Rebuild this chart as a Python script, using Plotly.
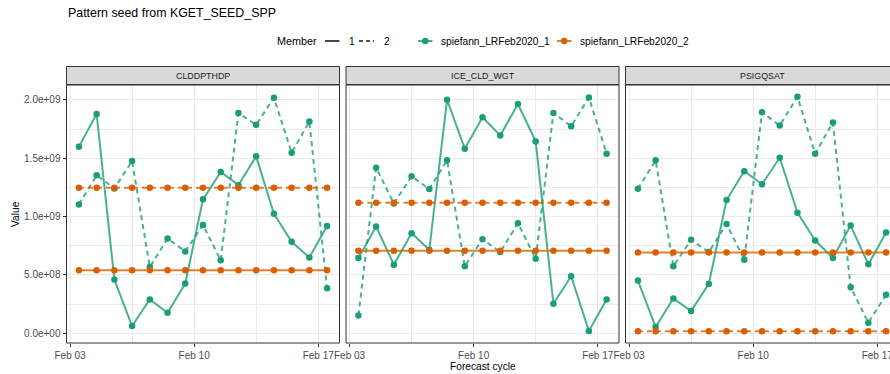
import pandas as pd
import plotly.graph_objects as go

# ---- data -----------------------------------------------------------------
panels = ["CLDDPTHDP", "ICE_CLD_WGT", "PSIGQSAT"]
experiments = ["spiefann_LRFeb2020_1", "spiefann_LRFeb2020_2"]
members = ["1", "2"]

cycles = [
    "2020-02-03 12:00", "2020-02-04 12:00", "2020-02-05 12:00", "2020-02-06 12:00",
    "2020-02-07 12:00", "2020-02-08 12:00", "2020-02-09 12:00", "2020-02-10 12:00",
    "2020-02-11 12:00", "2020-02-12 12:00", "2020-02-13 12:00", "2020-02-14 12:00",
    "2020-02-15 12:00", "2020-02-16 12:00", "2020-02-17 12:00",
]

# CLDDPTHDP
clddpthdp_exp1_m1 = [1.600e9, 1.880e9, 0.460e9, 0.062e9, 0.290e9, 0.176e9, 0.426e9, 1.148e9,
                     1.383e9, 1.270e9, 1.517e9, 1.025e9, 0.784e9, 0.650e9, 0.920e9]
clddpthdp_exp1_m2 = [1.105e9, 1.355e9, 1.241e9, 1.477e9, 0.568e9, 0.812e9, 0.702e9, 0.929e9,
                     0.625e9, 1.889e9, 1.787e9, 2.020e9, 1.548e9, 1.815e9, 0.386e9]
clddpthdp_exp2_m1 = [0.540e9, 0.540e9, 0.540e9, 0.540e9, 0.540e9, 0.540e9, 0.540e9, 0.540e9,
                     0.540e9, 0.540e9, 0.540e9, 0.540e9, 0.540e9, 0.540e9, 0.540e9]
clddpthdp_exp2_m2 = [1.247e9, 1.247e9, 1.247e9, 1.247e9, 1.247e9, 1.247e9, 1.247e9, 1.247e9,
                     1.247e9, 1.247e9, 1.247e9, 1.247e9, 1.247e9, 1.247e9, 1.247e9]

# ICE_CLD_WGT
ice_cld_wgt_exp1_m1 = [0.645e9, 0.915e9, 0.588e9, 0.858e9, 0.716e9, 2.003e9, 1.582e9, 1.852e9,
                       1.696e9, 1.966e9, 1.645e9, 0.253e9, 0.489e9, 0.020e9, 0.290e9]
ice_cld_wgt_exp1_m2 = [0.153e9, 1.420e9, 1.113e9, 1.346e9, 1.236e9, 1.483e9, 0.574e9, 0.807e9,
                       0.696e9, 0.943e9, 0.639e9, 1.889e9, 1.775e9, 2.022e9, 1.540e9]
ice_cld_wgt_exp2_m1 = [0.707e9, 0.707e9, 0.707e9, 0.707e9, 0.707e9, 0.707e9, 0.707e9, 0.707e9,
                       0.707e9, 0.707e9, 0.707e9, 0.707e9, 0.707e9, 0.707e9, 0.707e9]
ice_cld_wgt_exp2_m2 = [1.119e9, 1.119e9, 1.119e9, 1.119e9, 1.119e9, 1.119e9, 1.119e9, 1.119e9,
                       1.119e9, 1.119e9, 1.119e9, 1.119e9, 1.119e9, 1.119e9, 1.119e9]

# PSIGQSAT
psigqsat_exp1_m1 = [0.452e9, 0.054e9, 0.298e9, 0.190e9, 0.423e9, 1.142e9, 1.389e9, 1.278e9,
                    1.505e9, 1.034e9, 0.795e9, 0.645e9, 0.923e9, 0.591e9, 0.864e9]
psigqsat_exp1_m2 = [1.238e9, 1.483e9, 0.574e9, 0.801e9, 0.696e9, 0.937e9, 0.631e9, 1.895e9,
                    1.781e9, 2.028e9, 1.540e9, 1.807e9, 0.395e9, 0.091e9, 0.330e9]
psigqsat_exp2_m1 = [0.693e9, 0.693e9, 0.693e9, 0.693e9, 0.693e9, 0.693e9, 0.693e9, 0.693e9,
                    0.693e9, 0.693e9, 0.693e9, 0.693e9, 0.693e9, 0.693e9, 0.693e9]
psigqsat_exp2_m2 = [0.017e9, 0.017e9, 0.017e9, 0.017e9, 0.017e9, 0.017e9, 0.017e9, 0.017e9,
                    0.017e9, 0.017e9, 0.017e9, 0.017e9, 0.017e9, 0.017e9, 0.017e9]

y_ticks = [0.0, 5e8, 1e9, 1.5e9, 2e9]
x_ticks = ["2020-02-03", "2020-02-10", "2020-02-17"]

series = {
    "CLDDPTHDP": [[clddpthdp_exp1_m1, clddpthdp_exp1_m2], [clddpthdp_exp2_m1, clddpthdp_exp2_m2]],
    "ICE_CLD_WGT": [[ice_cld_wgt_exp1_m1, ice_cld_wgt_exp1_m2], [ice_cld_wgt_exp2_m1, ice_cld_wgt_exp2_m2]],
    "PSIGQSAT": [[psigqsat_exp1_m1, psigqsat_exp1_m2], [psigqsat_exp2_m1, psigqsat_exp2_m2]],
}

# ---- styling --------------------------------------------------------------
W, H = 890, 374
FONT = "Liberation Sans, Arial, Helvetica, sans-serif"
COLORS = ["#1B9E77", "#D95F02"]
LINE_COLORS = ["rgba(27,158,119,0.8)", "rgba(217,95,2,0.8)"]
DASHES = ["solid", "5px,4px"]
BORDER = "#333333"
GRID = "#EBEBEB"
TICK_TXT = "#4D4D4D"

# panel geometry in pixels (left, right); the last facet runs past the page edge
PANEL_W = 273.0
panel_left = [66.5, 346.0, 625.5]
panel_top, panel_bottom = 85.0, 343.0
strip_top = 66.5


def px(x):
    return x / W


def py(y):
    return (H - y) / H


# scales with ggplot-style 5 % expansion
t = pd.to_datetime(cycles)
span = t.max() - t.min()
x_lo = t.min() - 0.05 * span
x_hi = t.max() + 0.05 * span

all_vals = [v for p in panels for e in series[p] for m in e for v in m]
v_span = max(all_vals) - min(all_vals)
y_lo = min(all_vals) - 0.05 * v_span
y_hi = max(all_vals) + 0.05 * v_span

fig = go.Figure()

for i, p in enumerate(panels):
    xa = "x" if i == 0 else f"x{i + 1}"
    ya = "y" if i == 0 else f"y{i + 1}"
    # lines first, then points on top
    for e in range(2):
        for m in range(2):
            fig.add_trace(go.Scatter(
                x=cycles, y=series[p][e][m], mode="lines", xaxis=xa, yaxis=ya,
                line=dict(color=LINE_COLORS[e], width=2, dash=DASHES[m]),
                showlegend=False, hoverinfo="skip"))
    for e in range(2):
        for m in range(2):
            fig.add_trace(go.Scatter(
                x=cycles, y=series[p][e][m], mode="markers", xaxis=xa, yaxis=ya,
                marker=dict(color=COLORS[e], size=6.5),
                name=f"{experiments[e]} / {members[m]}", showlegend=False))

layout = dict(
    width=W, height=H,
    margin=dict(l=0, r=0, t=0, b=0),
    paper_bgcolor="white", plot_bgcolor="white",
    font=dict(family=FONT, color="#1A1A1A"),
    showlegend=False,
)

shapes = []
annotations = []

for i, p in enumerate(panels):
    left = panel_left[i]
    right = min(left + PANEL_W, W)
    frac = (right - left) / PANEL_W
    hi = x_lo + (x_hi - x_lo) * frac
    key = "xaxis" if i == 0 else f"xaxis{i + 1}"
    ykey = "yaxis" if i == 0 else f"yaxis{i + 1}"
    ya = "y" if i == 0 else f"y{i + 1}"
    layout[key] = dict(
        domain=[px(left), px(right)], anchor=ya, type="date",
        range=[x_lo.isoformat(), hi.isoformat()],
        tickmode="array", tickvals=x_ticks, ticktext=[pd.Timestamp(v).strftime("%b %d") for v in x_ticks],
        ticks="outside", ticklen=3, tickwidth=1, tickcolor=BORDER,
        tickfont=dict(size=10, color=TICK_TXT, family=FONT),
        ticklabeloverflow="allow",
        showgrid=True, gridcolor=GRID, gridwidth=1,
        minor=dict(dtick=3.5 * 86400000, tick0="2020-02-03", showgrid=True,
                   gridcolor=GRID, gridwidth=0.6, ticks=""),
        showline=False, zeroline=False, automargin=False, fixedrange=True,
    )
    layout[ykey] = dict(
        domain=[py(panel_bottom), py(panel_top)], anchor="x" if i == 0 else f"x{i + 1}",
        range=[y_lo, y_hi],
        tickmode="array", tickvals=y_ticks, ticktext=[f"{v:.1e}" for v in y_ticks],
        showticklabels=(i == 0), ticks="outside" if i == 0 else "",
        ticklen=3, tickwidth=1, tickcolor=BORDER,
        tickfont=dict(size=10, color=TICK_TXT, family=FONT),
        showgrid=True, gridcolor=GRID, gridwidth=1,
        minor=dict(dtick=2.5e8, tick0=0, showgrid=True, gridcolor=GRID, gridwidth=0.6, ticks=""),
        showline=False, zeroline=False, automargin=False, fixedrange=True,
    )
    # panel border
    shapes.append(dict(type="rect", xref="paper", yref="paper",
                       x0=px(left), x1=px(left + PANEL_W), y0=py(panel_bottom), y1=py(panel_top),
                       line=dict(color=BORDER, width=1), fillcolor="rgba(0,0,0,0)", layer="above"))
    # facet strip
    shapes.append(dict(type="rect", xref="paper", yref="paper",
                       x0=px(left), x1=px(left + PANEL_W), y0=py(panel_top - 0.5), y1=py(strip_top),
                       line=dict(color=BORDER, width=1), fillcolor="#D9D9D9", layer="above"))
    annotations.append(dict(text=p, xref="paper", yref="paper", showarrow=False,
                            x=px(left + PANEL_W / 2), y=py((strip_top + panel_top) / 2),
                            xanchor="center", yanchor="middle",
                            font=dict(size=8.9, color="#1A1A1A", family=FONT)))

# title and axis titles
annotations.append(dict(text="Pattern seed from KGET_SEED_SPP", xref="paper", yref="paper",
                        showarrow=False, x=px(65.5), y=py(13), xanchor="left", yanchor="middle",
                        font=dict(size=12.4, color="black", family=FONT)))
annotations.append(dict(text="Value", xref="paper", yref="paper", showarrow=False,
                        x=px(15), y=py((panel_top + panel_bottom) / 2), textangle=-90,
                        xanchor="center", yanchor="middle",
                        font=dict(size=10.2, color="black", family=FONT)))
annotations.append(dict(text="Forecast cycle", xref="paper", yref="paper", showarrow=False,
                        x=px(panel_left[0] + (panel_left[2] + PANEL_W - panel_left[0]) / 2), y=py(366),
                        xanchor="center", yanchor="middle",
                        font=dict(size=10.2, color="black", family=FONT)))

# legend row
LEG_Y = 41
annotations.append(dict(text="Member", xref="paper", yref="paper", showarrow=False,
                        x=px(274.5), y=py(LEG_Y), xanchor="left", yanchor="middle",
                        font=dict(size=10.8, color="black", family=FONT)))
for (x0, x1, dash, lab, lx) in [(325, 339.5, "solid", members[0], 346.5),
                                 (359, 374, "4px,3px", members[1], 381.5)]:
    shapes.append(dict(type="line", xref="paper", yref="paper",
                       x0=px(x0), x1=px(x1), y0=py(LEG_Y), y1=py(LEG_Y),
                       line=dict(color="#1A1A1A", width=1.6, dash=dash)))
    annotations.append(dict(text=lab, xref="paper", yref="paper", showarrow=False,
                            x=px(lx), y=py(LEG_Y), xanchor="left", yanchor="middle",
                            font=dict(size=10.2, color="black", family=FONT)))
for e, (x0, lx) in enumerate([(418, 438.5), (557, 577.5)]):
    shapes.append(dict(type="line", xref="paper", yref="paper",
                       x0=px(x0), x1=px(x0 + 14.5), y0=py(LEG_Y), y1=py(LEG_Y),
                       line=dict(color=LINE_COLORS[e], width=2)))
    cx = x0 + 7.25
    shapes.append(dict(type="circle", xref="paper", yref="paper",
                       x0=px(cx - 3.2), x1=px(cx + 3.2), y0=py(LEG_Y + 3.2), y1=py(LEG_Y - 3.2),
                       line=dict(width=0), fillcolor=COLORS[e]))
    annotations.append(dict(text=experiments[e], xref="paper", yref="paper", showarrow=False,
                            x=px(lx), y=py(LEG_Y), xanchor="left", yanchor="middle",
                            font=dict(size=10.2, color="black", family=FONT)))

layout["shapes"] = shapes
layout["annotations"] = annotations
fig.update_layout(**layout)

fig.write_html("out.html", config={"displayModeBar": False})
